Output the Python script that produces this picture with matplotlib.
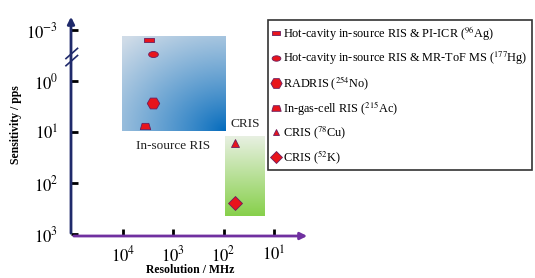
import numpy as np
import matplotlib
matplotlib.use("Agg")
from matplotlib import pyplot as plt
from matplotlib.lines import Line2D

plt.rcParams["font.family"] = ["Liberation Serif", "DejaVu Serif"]
plt.rcParams["mathtext.fontset"] = "stix"

# 数据：分辨率 (MHz) 与灵敏度 (pps, 以 log10 表示)
labels = [
    r"Hot-cavity in-source RIS & PI-ICR ($^{96}$Ag)",
    r"Hot-cavity in-source RIS & MR-ToF MS ($^{177}$Hg)",
    r"RADRIS ($^{254}$No)",
    r"In-gas-cell RIS ($^{215}$Ac)",
    r"CRIS ($^{78}$Cu)",
    r"CRIS ($^{52}$K)",
]
resolution_mhz = [3000, 2500, 2500, 3600, 58, 58]
log_sensitivity = [-2.4, -1.6, 0.43, 0.88, 1.22, 2.39]

x_ticks = [1e4, 1e3, 1e2, 1e1]
x_ticklabels = [r"$10^{4}$", r"$10^{3}$", r"$10^{2}$", r"$10^{1}$"]
y_ticklabels = [r"$10^{-3}$", r"$10^{0}$", r"$10^{1}$", r"$10^{2}$", r"$10^{3}$"]
y_tick_logs = [-3, 0, 1, 2, 3]

# 方框区域 (分辨率 MHz, log 灵敏度)
insource_box = ([1.05e4, 93], [-2.6, 0.98])
cris_box = ([93, 15], [1.09, 2.65])


def xpos(r):
    return -np.log10(r)


def ypos(s):
    # 轴断开：10^-3 到 10^0 压缩为一个刻度间隔
    s = np.asarray(s, dtype=float)
    return np.where(s < 0, s / 3.0, s)


# 自定义标记形状
rect_m = [(-1, -0.45), (1, -0.45), (1, 0.45), (-1, 0.45), (-1, -0.45)]
th = np.linspace(0, 2 * np.pi, 40)
ell_m = list(zip(np.cos(th), 0.62 * np.sin(th)))
trap_m = [(-1, -0.6), (1, -0.6), (0.65, 0.6), (-0.65, 0.6), (-1, -0.6)]
markers = [rect_m, ell_m, "H", trap_m, "^", "D"]
sizes = [6.5, 7, 9, 7.5, 5.5, 7]

red = "#e8141c"
edge = "#6b1f5f"

fig = plt.figure(figsize=(5.35, 2.78), dpi=100)
L, R, T, B = 71, 310, 14, 236
ax = fig.add_axes([L / 535, 1 - B / 278, (R - L) / 535, (B - T) / 278])
xlim = (-5.034, -0.282)
ylim = (3.039, -1.314)
for s in ax.spines.values():
    s.set_visible(False)

# 渐变方框 (第 0 行为视觉上方)
gx = np.linspace(0, 1, 200)
gy = np.linspace(0, 1, 200)
GX, GY = np.meshgrid(gx, gy)
t = np.clip(np.sqrt((1 - GX) ** 2 * 0.8 + (1 - GY) ** 2) / 1.3, 0, 1)
c0 = np.array([0, 105, 188]) / 255
c1 = np.array([208, 220, 232]) / 255
img = c0 + (c1 - c0) * t[..., None] ** 0.85
bx = [xpos(v) for v in insource_box[0]]
by = list(ypos(insource_box[1]))
ax.imshow(img, extent=[bx[0], bx[1], by[1], by[0]], origin="upper", aspect="auto", zorder=1)

g0 = np.array([232, 240, 226]) / 255
g1 = np.array([135, 208, 75]) / 255
gimg = g0 + (g1 - g0) * GY[..., None]
cx = [xpos(v) for v in cris_box[0]]
cy = list(ypos(cris_box[1]))
ax.imshow(gimg, extent=[cx[0], cx[1], cy[1], cy[0]], origin="upper", aspect="auto", zorder=1)
ax.set_xlim(xlim)
ax.set_ylim(ylim)

ax.text(np.mean(bx), 1.27, "In-source RIS", ha="center", va="center", fontsize=9.5, color="#222222")
ax.text(np.mean(cx), 0.85, "CRIS", ha="center", va="center", fontsize=9.5, color="#222222")

# 数据点
handles = []
for r, s, m, ms, lab in zip(resolution_mhz, log_sensitivity, markers, sizes, labels):
    ax.plot(xpos(r), ypos(s), marker=m, ms=ms, color=red, mec=edge, mew=0.6,
            linestyle="none", zorder=3)
    handles.append(Line2D([], [], marker=m, ms=ms * 0.9, color=red, mec=edge, mew=0.6,
                          linestyle="none", label=lab))

# 坐标轴箭头
ax.annotate("", xy=(xlim[0], ylim[1]), xytext=(xlim[0], ylim[0]),
            arrowprops=dict(arrowstyle="-|>", color="#1f2a6b", lw=2, mutation_scale=10),
            annotation_clip=False, zorder=4)
ax.annotate("", xy=(xlim[1], ylim[0]), xytext=(xlim[0], ylim[0]),
            arrowprops=dict(arrowstyle="-|>", color="#7030a0", lw=2, mutation_scale=10),
            annotation_clip=False, zorder=4)

# 刻度
ax.set_xticks([xpos(v) for v in x_ticks])
ax.set_xticklabels(x_ticklabels, fontsize=12)
ax.set_yticks(list(ypos(y_tick_logs)))
ax.set_yticklabels(y_ticklabels, fontsize=12)
ax.tick_params(axis="both", direction="in", length=5, width=2, color="black")
ax.tick_params(axis="x", pad=7)
ax.tick_params(axis="y", pad=9)

# 轴断开标记
for dy in (-0.07, 0.07):
    yb = -0.47 + dy
    ax.plot([xlim[0] - 0.1, xlim[0] + 0.13], [yb + 0.1, yb - 0.1], color="#1f2a6b",
            lw=1.2, clip_on=False, zorder=5)

ax.set_xlabel("Resolution / MHz", fontsize=8.5, fontweight="bold", labelpad=-1)
ax.set_ylabel("Sensitivity / pps", fontsize=8.5, fontweight="bold", labelpad=3)

leg = fig.legend(handles=handles, loc="upper left", bbox_to_anchor=(268 / 535, 1 - 20 / 278),
                 fontsize=8.8, frameon=True, fancybox=False, edgecolor="black",
                 handlelength=0.6, handletextpad=0.3, labelspacing=0.6,
                 borderpad=0.35, borderaxespad=0)
leg.get_frame().set_linewidth(1.2)

fig.savefig("out.png", dpi=100)
